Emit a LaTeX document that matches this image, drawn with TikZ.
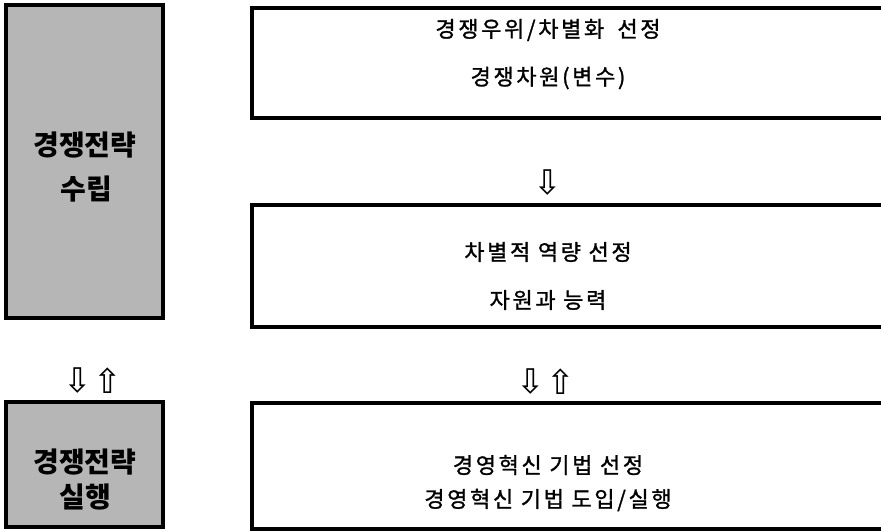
\documentclass[tikz,border=0pt]{standalone}
\usepackage{fontspec}
\newfontfamily\kr{Noto Sans CJK KR}
\newfontfamily\krsp[LetterSpace=12,FakeBold=1.2]{Noto Sans CJK KR}
\newfontfamily\sym{DejaVu Sans}
\definecolor{boxgray}{HTML}{B6B6B6}
\tikzset{
  leftbox/.style={draw=black, line width=3.5pt, fill=boxgray},
  rightbox/.style={draw=black, line width=3.5pt, fill=white},
  lefttxt/.style={font=\kr\bfseries\fontsize{28}{28}\selectfont, inner sep=0pt},
  righttxt/.style={font=\krsp\fontsize{22}{22}\selectfont, inner sep=0pt},
  arr/.style={font=\sym\fontsize{34}{34}\selectfont, inner sep=0pt}
}
\begin{document}
\begin{tikzpicture}[x=1pt,y=-1pt]
\useasboundingbox (0,0) rectangle (881,532);
\fill[white] (0,0) rectangle (881,532);
% left boxes
\draw[leftbox] (6,5) rectangle (163,318);
\draw[leftbox] (6,402) rectangle (163,527);
\node[lefttxt] (l1a) at (85,145) {경쟁전략};
\node[lefttxt] (l1b) at (86,189) {수립};
\node[lefttxt] (l2a) at (85,462) {경쟁전략};
\node[lefttxt] (l2b) at (85,497) {실행};
% right boxes
\draw[rightbox] (252,8) rectangle (900,118);
\draw[rightbox] (252,205) rectangle (900,327);
\draw[rightbox] (252,403) rectangle (900,529);
\node[righttxt] (r1a) at (548,30) {경쟁우위/차별화\hspace{0.6em}선정};
\node[righttxt] (r1b) at (548,78) {경쟁차원(변수)};
\node[righttxt] (r2a) at (548,252) {차별적 역량 선정};
\node[righttxt] (r2b) at (548,300) {자원과 능력};
\node[righttxt] (r3a) at (548,465) {경영혁신 기법 선정};
\node[righttxt] (r3b) at (548,500) {경영혁신 기법 도입/실행};
% arrows
\node[arr] (a1) at (548,183) {⇩};
\node[arr] (a2) at (531,382) {⇩};
\node[arr] (a3) at (561,382) {⇧};
\node[arr] (a4) at (78,381) {⇩};
\node[arr] (a5) at (108,381) {⇧};
\end{tikzpicture}
\end{document}
